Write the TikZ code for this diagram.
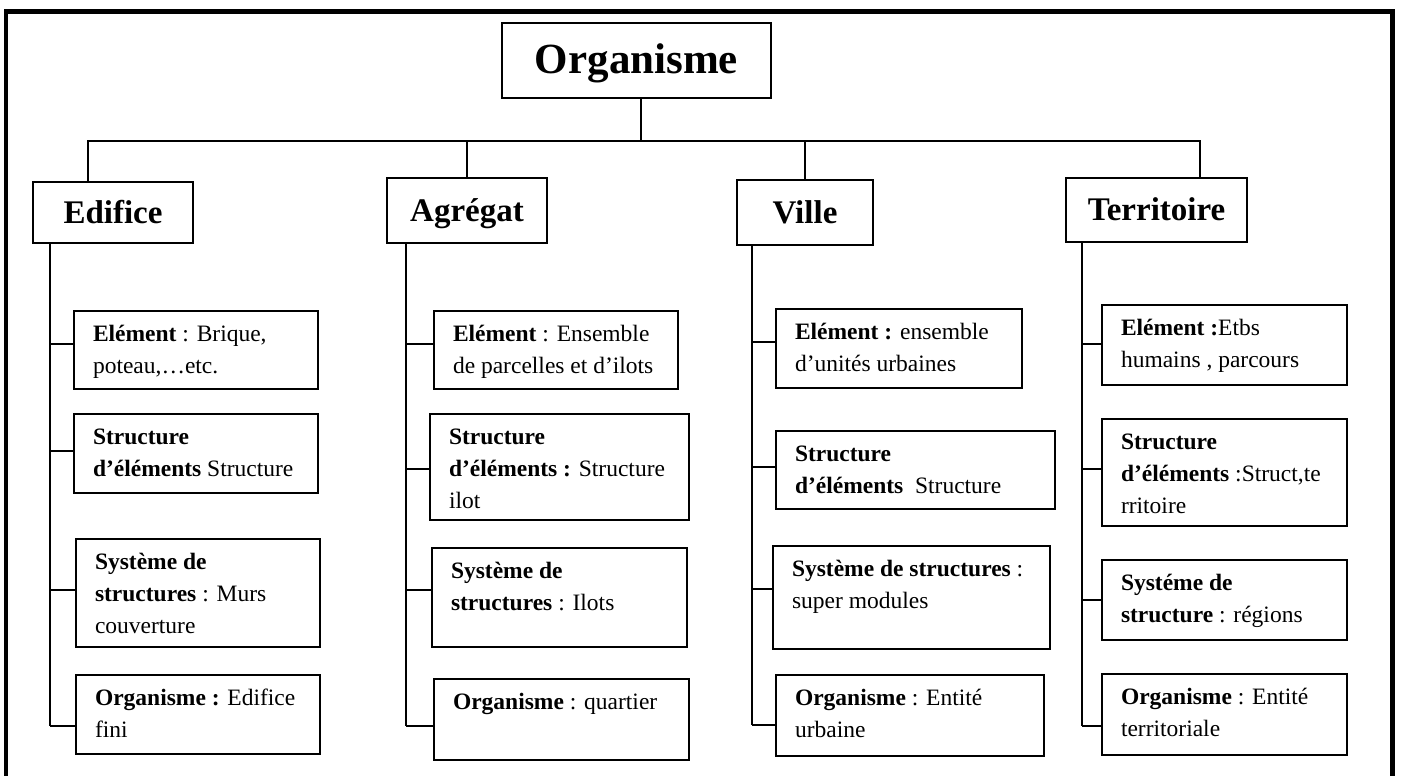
\documentclass[tikz,border=0pt]{standalone}
\usepackage{fontspec}
\setmainfont{Liberation Serif}

% leaf box: name, x, y (top-left corner), width, height, lines of text
\newcommand\leaf[6]{%
  \node[leafbox, anchor=north west] (#1) at (#2,#3)
    {\parbox[c][\dimexpr#5pt-15.2pt\relax][t]{\dimexpr#4pt-38pt\relax}%
      {\begin{tabular}[t]{@{}l@{}}#6\end{tabular}}};}

\tikzset{
  frameline/.style={line width=4.5pt, line join=miter},
  wire/.style={line width=1.6pt},
  leafbox/.style={draw, line width=1.6pt, inner xsep=19pt, inner ysep=7.6pt,
    outer sep=0pt, font=\fontsize{23.5}{32}\selectfont},
  headbox/.style={draw, line width=1.7pt, inner sep=0pt, outer sep=0pt,
    font=\fontsize{33}{40}\selectfont\bfseries,
    text height=22pt, text depth=1pt},
  rootbox/.style={draw, line width=1.7pt, inner sep=0pt, outer sep=0pt,
    font=\fontsize{43}{52}\selectfont\bfseries,
    text height=28pt, text depth=1pt},
}

\begin{document}
\begin{tikzpicture}[x=1pt, y=-1pt]
\useasboundingbox (0,0) rectangle (1401,776);
\fill[white] (0,0) rectangle (1401,776);

% outer frame, open at the bottom
\draw[frameline] (6,776) -- (6,11.5) -- (1392.7,11.5) -- (1392.7,776);

% root and the four levels
\node[rootbox, minimum width=269pt, minimum height=75pt] (root) at (636.5,60.5)
  {Organisme};
\node[headbox, minimum width=160pt, minimum height=61pt] (edifice) at (113,212.5)
  {Edifice};
\node[headbox, minimum width=160pt, minimum height=65pt] (agregat) at (467,210.5)
  {Agrégat};
\node[headbox, minimum width=136pt, minimum height=65pt] (ville) at (805,212.5)
  {Ville};
\node[headbox, minimum width=181pt, minimum height=64pt] (territoire) at (1156.5,210)
  {Territoire};

% bus from the root to the four levels
\coordinate (bus) at (641,141);
\coordinate (busL) at (88,141);
\coordinate (busR) at (1200,141);
\draw[wire] (bus |- root.south) -- (bus);
\draw[wire] (busL |- edifice.north) -- (busL) -- (busR) -- (busR |- territoire.north);
\draw[wire] (agregat.north) -- (agregat.north |- bus);
\draw[wire] (ville.north) -- (ville.north |- bus);

% Edifice
\leaf{e1}{74}{311}{244}{78}{\textbf{Elément} : Brique,\\ poteau,…etc.}
\leaf{e2}{74}{414}{244}{79}{\textbf{Structure}\\ \textbf{d’éléments} Structure}
\leaf{e3}{76}{539}{244}{108}{\textbf{Système de}\\ \textbf{structures} : Murs\\ couverture}
\leaf{e4}{76}{675}{244}{79}{\textbf{Organisme :} Edifice\\ fini}

% Agrégat
\leaf{a1}{434}{311}{244}{78}{\textbf{Elément} : Ensemble\\ de parcelles et d’ilots}
\leaf{a2}{430}{414}{259}{106}{\textbf{Structure}\\ \textbf{d’éléments :} Structure\\ ilot}
\leaf{a3}{432}{548}{255}{99}{\textbf{Système de}\\ \textbf{structures} : Ilots}
\leaf{a4}{434}{679}{255}{81}{\textbf{Organisme} : quartier}

% Ville
\leaf{v1}{776}{309}{246}{79}{\textbf{Elément :} ensemble\\ d’unités urbaines}
\leaf{v2}{776}{431}{279}{78}{\textbf{Structure}\\ \textbf{d’éléments}\ \ Structure}
\leaf{v3}{773}{546}{277}{103}{\textbf{Système de structures} :\\ super modules}
\leaf{v4}{776}{675}{268}{81}{\textbf{Organisme} : Entité\\ urbaine}

% Territoire
\leaf{t1}{1102}{305}{245}{80}{\textbf{Elément :}Etbs\\ humains , parcours}
\leaf{t2}{1102}{419}{245}{107}{\textbf{Structure}\\ \textbf{d’éléments} :Struct,te\\ rritoire}
\leaf{t3}{1102}{560}{245}{80}{\textbf{Systéme de}\\ \textbf{structure} : régions}
\leaf{t4}{1102}{674}{245}{81}{\textbf{Organisme} : Entité\\ territoriale}

% junctions on each spine
\coordinate (ej1) at (50,344);   \coordinate (ej2) at (50,451);
\coordinate (ej3) at (50,590);   \coordinate (ej4) at (50,726);
\coordinate (aj1) at (406,344);  \coordinate (aj2) at (406,469);
\coordinate (aj3) at (406,590);  \coordinate (aj4) at (406,726);
\coordinate (vj1) at (752,342);  \coordinate (vj2) at (752,467);
\coordinate (vj3) at (752,589);  \coordinate (vj4) at (752,725);
\coordinate (tj1) at (1082,344); \coordinate (tj2) at (1082,469);
\coordinate (tj3) at (1082,600); \coordinate (tj4) at (1082,726);

% spines
\draw[wire] (ej4 |- edifice.south) -- (ej4);
\draw[wire] (aj4 |- agregat.south) -- (aj4);
\draw[wire] (vj4 |- ville.south) -- (vj4);
\draw[wire] (tj4 |- territoire.south) -- (tj4);

% branches to the boxes
\foreach \p/\b in {ej1/e1, ej2/e2, ej3/e3, ej4/e4,
                   aj1/a1, aj2/a2, aj3/a3, aj4/a4,
                   vj1/v1, vj2/v2, vj3/v3, vj4/v4,
                   tj1/t1, tj2/t2, tj3/t3, tj4/t4}
  \draw[wire] (\p) -- (\p -| \b.west);
\end{tikzpicture}
\end{document}
